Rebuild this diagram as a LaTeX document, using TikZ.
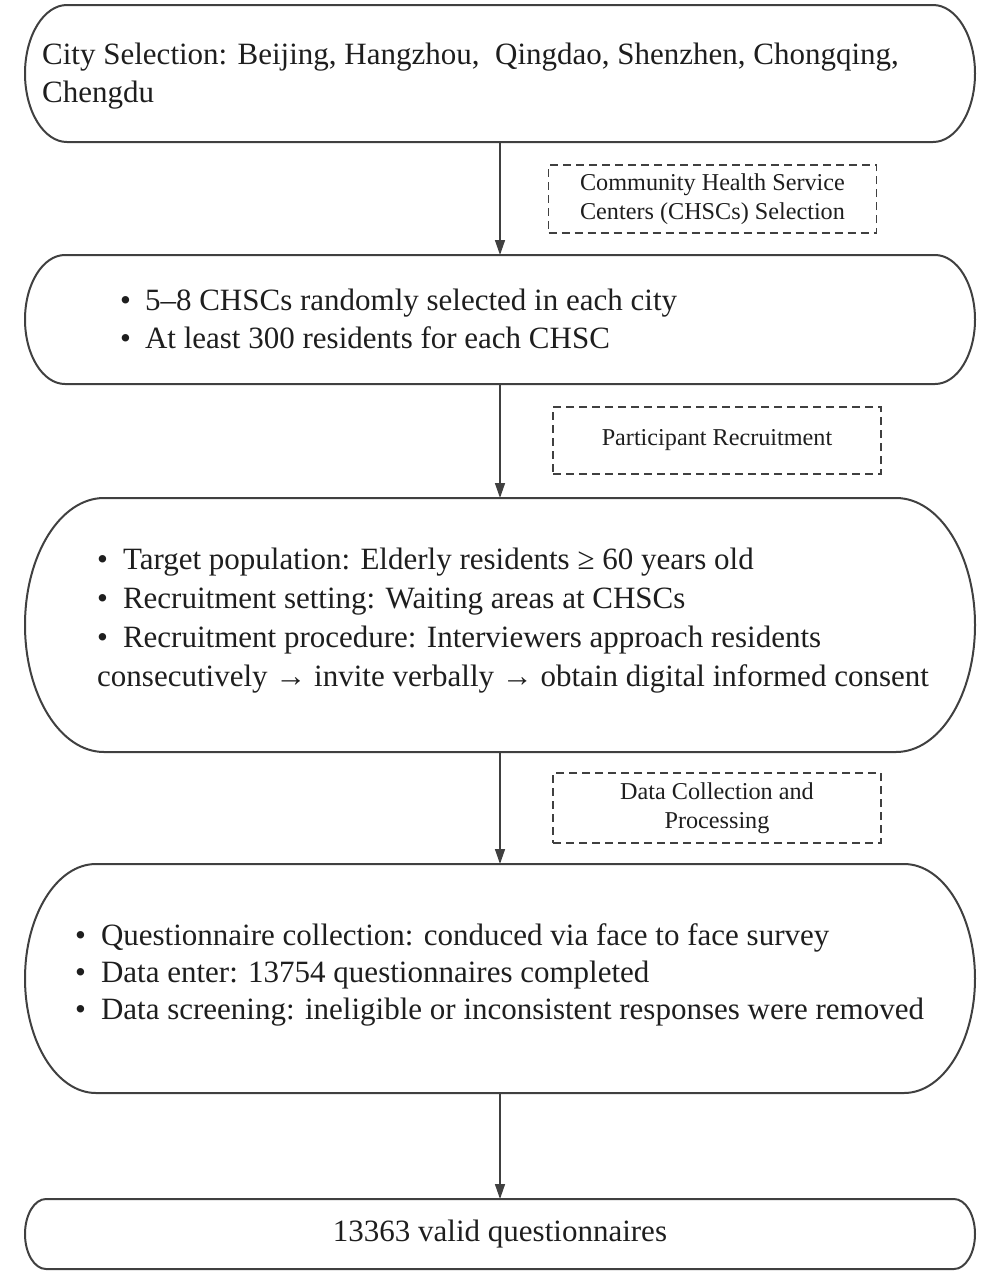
\documentclass[tikz,border=0pt]{standalone}
\usepackage{fontspec}
\setmainfont{Liberation Serif}
\usetikzlibrary{arrows.meta}
\definecolor{edgegray}{HTML}{404040}
\definecolor{inkgray}{HTML}{1E1E1E}
\tikzset{
  stagebox/.style={minimum width=950pt, inner sep=0pt, outer sep=0pt},
  stagetext/.style={anchor=base west, align=left, inner sep=0pt, text=inkgray},
  notebox/.style={draw=edgegray, line width=1.6pt, dash pattern=on 8pt off 5pt,
    minimum width=328pt, align=center, inner sep=0pt, text=inkgray,
    font=\fontsize{24.2}{29}\selectfont},
  flow/.style={draw=edgegray, line width=1.5pt, -{Triangle[length=15pt,width=10pt]}},
  outline/.style={draw=edgegray, line width=2pt},
}
% stage outline with elliptic ends: node, x radius, y radius
\newcommand{\stageoutline}[3]{%
  \draw[outline] ([xshift=#2]#1.north west) -- ([xshift=-#2]#1.north east)
    arc[start angle=90, end angle=-90, x radius=#2, y radius=#3]
    -- ([xshift=#2]#1.south west)
    arc[start angle=270, end angle=90, x radius=#2, y radius=#3] -- cycle;}
\begin{document}
\begin{tikzpicture}[x=1pt, y=-1pt]
    \useasboundingbox (0,0) rectangle (999,1280);
    % stages
    \node[stagebox, minimum height=137pt] (city) at (500,73.5) {};
    \node[stagebox, minimum height=129pt] (chsc) at (500,319.5) {};
    \node[stagebox, minimum height=254pt] (recruit) at (500,625) {};
    \node[stagebox, minimum height=229pt] (collect) at (500,978.5) {};
    \node[stagebox, minimum height=70pt, text=inkgray, font=\fontsize{31}{36}\selectfont] (valid) at (500,1234) {13363 valid questionnaires};
    \stageoutline{city}{42pt}{68.5pt}
    \stageoutline{chsc}{40pt}{64.5pt}
    \stageoutline{recruit}{79pt}{127pt}
    \stageoutline{collect}{71pt}{114.5pt}
    \stageoutline{valid}{21pt}{35pt}
    % stage texts (base = last line)
    \node[stagetext, font=\fontsize{31}{38}\selectfont] (cityText) at (42,102)
        {City Selection: Beijing, Hangzhou,\ \ Qingdao, Shenzhen, Chongqing,\\Chengdu};
    \node[stagetext, font=\fontsize{31}{37.5}\selectfont] (chscText) at (120,348)
        {•\hspace{14pt}5–8 CHSCs randomly selected in each city\\
         •\hspace{14pt}At least 300 residents for each CHSC};
    \node[stagetext, font=\fontsize{31}{39}\selectfont] (recruitText) at (97,686)
        {•\hspace{15pt}Target population: Elderly residents ≥ 60 years old\\
         •\hspace{15pt}Recruitment setting: Waiting areas at CHSCs\\
         •\hspace{15pt}Recruitment procedure: Interviewers approach residents\\
         consecutively → invite verbally → obtain digital informed consent};
    \node[stagetext, font=\fontsize{31}{37}\selectfont] (collectText) at (75,1019)
        {•\hspace{15pt}Questionnaire collection: conduced via face to face survey\\
         •\hspace{15pt}Data enter: 13754 questionnaires completed\\
         •\hspace{15pt}Data screening: ineligible or inconsistent responses were removed};
    % side notes
    \node[notebox, minimum height=68pt] (chscNote) at (712.5,199) {Community Health Service\\Centers (CHSCs) Selection};
    \node[notebox, minimum height=67pt] (recruitNote) at (717,440.5) {Participant Recruitment};
    \node[notebox, minimum height=70pt] (collectNote) at (717,808) {Data Collection and\\Processing};
    % arrows
    \draw[flow] (city) -- (chsc);
    \draw[flow] (chsc) -- (recruit);
    \draw[flow] (recruit) -- (collect);
    \draw[flow] (collect) -- (valid);
\end{tikzpicture}
\end{document}
